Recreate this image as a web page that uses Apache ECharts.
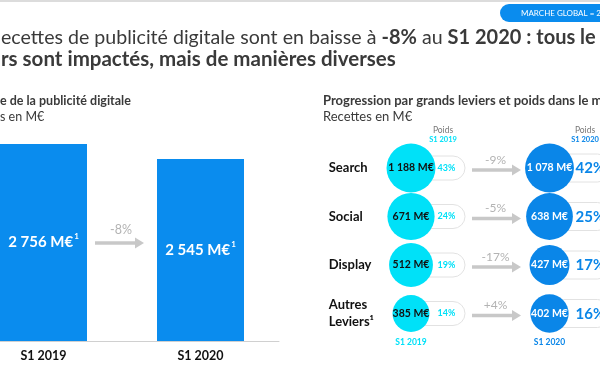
<!DOCTYPE html>
<html>
<head>
<meta charset="utf-8">
<script src="https://cdn.jsdelivr.net/npm/echarts@6/dist/echarts.min.js"></script>
<style>html,body{margin:0;padding:0;background:#fff}#c{width:600px;height:372px}</style>
</head>
<body>
<div id="c"></div>
<script>
// ---- data ----
const years = ['S1 2019', 'S1 2020'];
const totals = [2756, 2545];
const totalChange = '-8%';
const levers = ['Search', 'Social', 'Display', 'Autres\nLeviers¹'];
const revenue2019 = [1188, 671, 512, 385];
const revenue2020 = [1078, 638, 427, 402];
const share2019 = [43, 24, 19, 14];
const share2020 = [42, 25, 17, 16];
const leverChange = ['-9%', '-5%', '-17%', '+4%'];

// ---- styles ----
const FONT = 'Lato';
const CYAN = '#00E1F8';
const BLUE = '#0A86E8';
const BAR = '#0A8CEE';
const DARK = '#3a3a3a';
const ARROW = '#c8c8c8';

const fmt = v => String(v).replace(/\B(?=(\d{3})+(?!\d))/g, ' ') + ' M€';
const bubbleSize = v => 49 - 12 * Math.exp(-(v - 385) / 150);

const chart = echarts.init(document.getElementById('c'), null, {renderer: 'canvas'});

function arrowShape(x0, x1, y, color) {
  return [
    {type: 'rect', shape: {x: x0, y: y - 1.8, width: x1 - x0 - 8, height: 3.6}, style: {fill: color}},
    {type: 'polygon', shape: {points: [[x1 - 9, y - 5.5], [x1, y], [x1 - 9, y + 5.5]]}, style: {fill: color}}
  ];
}

const option = {
  animation: false,
  textStyle: {fontFamily: FONT},
  grid: [
    {left: -35, width: 314, top: 126.5, bottom: 31, outerBoundsMode: 'none', containLabel: false},
    {left: 341.75, width: 277, top: 143.75, bottom: 34.25, outerBoundsMode: 'none', containLabel: false}
  ],
  xAxis: [
    {
      gridIndex: 0, type: 'category', data: years,
      axisLine: {lineStyle: {color: '#d0d0d0', width: 1}},
      axisTick: {show: false},
      axisLabel: {color: '#111', fontWeight: 'bold', fontSize: 12.5, fontFamily: FONT, margin: 8}
    },
    {
      gridIndex: 1, type: 'category', data: years,
      axisLine: {show: false}, axisTick: {show: false},
      axisLabel: {
        margin: 0, fontSize: 8.5, fontWeight: 'bold', fontFamily: FONT,
        formatter: (v, i) => i === 0 ? '{a|' + v + '}' : '{b|' + v + '}',
        rich: {
          a: {color: CYAN, fontSize: 8.5, fontWeight: 'bold', fontFamily: FONT},
          b: {color: BLUE, fontSize: 8.5, fontWeight: 'bold', fontFamily: FONT}
        }
      }
    }
  ],
  yAxis: [
    {gridIndex: 0, type: 'value', min: 0, max: 3000, show: false},
    {
      gridIndex: 1, type: 'category', data: levers, inverse: true,
      axisLine: {show: false}, axisTick: {show: false}, splitLine: {show: false},
      axisLabel: {
        align: 'left', margin: 13, color: '#111', fontWeight: 'bold', fontSize: 13,
        fontFamily: FONT, lineHeight: 17
      }
    }
  ],
  series: [
    {
      type: 'bar', xAxisIndex: 0, yAxisIndex: 0, data: totals, barWidth: 87,
      itemStyle: {color: BAR},
      label: {
        show: true, position: 'inside',
        formatter: p => '{v|' + fmt(p.value) + '}{s|1}',
        rich: {
          v: {color: '#fff', fontWeight: 'bold', fontSize: 15, fontFamily: FONT},
          s: {color: '#fff', fontWeight: 'bold', fontSize: 8, fontFamily: FONT, padding: [0, 0, 12, 1]}
        }
      }
    },
    {
      type: 'custom', xAxisIndex: 1, yAxisIndex: 1, z: 1,
      data: levers.map((l, i) => [0, i]),
      renderItem: (params, api) => {
        const i = params.dataIndex;
        const c1 = api.coord([0, i]);
        const c2 = api.coord([1, i]);
        const y = c1[1];
        const children = [
          {type: 'rect', shape: {x: c1[0], y: y - 12, width: 54, height: 24, r: 12},
           style: {fill: '#fff', stroke: '#e2e2e2', lineWidth: 1}},
          {type: 'text', style: {x: c1[0] + 35.5, y: y, text: share2019[i] + '%', fill: CYAN,
            font: 'bold 9px ' + FONT, textAlign: 'center', textVerticalAlign: 'middle'}},
          {type: 'rect', shape: {x: c2[0], y: y - 14, width: 62, height: 28, r: 14},
           style: {fill: '#fff', stroke: '#e2e2e2', lineWidth: 1}},
          {type: 'text', style: {x: c2[0] + 26, y: y + 0.5, text: share2020[i] + '%', fill: BLUE,
            font: 'bold 15px ' + FONT, textAlign: 'left', textVerticalAlign: 'middle'}},
          {type: 'text', style: {x: c1[0] + 84.5, y: y - 8, text: leverChange[i], fill: '#b3b3b3',
            font: '12px ' + FONT, textAlign: 'center', textVerticalAlign: 'middle'}}
        ].concat(arrowShape(c1[0] + 61, c1[0] + 110, y + 2, ARROW));
        return {type: 'group', children};
      }
    },
    {
      type: 'scatter', xAxisIndex: 1, yAxisIndex: 1, z: 3,
      data: revenue2019.map((v, i) => [0, i, v]),
      symbolSize: d => bubbleSize(d[2]),
      itemStyle: {color: CYAN, opacity: 1},
      label: {show: true, position: 'inside', formatter: p => fmt(p.value[2]),
        color: '#111', fontWeight: 'bold', fontSize: 10.5, fontFamily: FONT}
    },
    {
      type: 'scatter', xAxisIndex: 1, yAxisIndex: 1, z: 3,
      data: revenue2020.map((v, i) => [1, i, v]),
      symbolSize: d => bubbleSize(d[2]),
      itemStyle: {color: BLUE, opacity: 1},
      label: {show: true, position: 'inside', formatter: p => fmt(p.value[2]),
        color: '#fff', fontWeight: 'bold', fontSize: 10.5, fontFamily: FONT}
    }
  ],
  graphic: [
    {type: 'rect', left: 0, top: 0, shape: {width: 600, height: 2}, style: {fill: '#dcdcdc'}},
    {type: 'rect', x: 500, y: 4, shape: {width: 120, height: 18, r: 9}, style: {fill: BAR}},
    {type: 'text', x: 521, y: 13.5, style: {text: 'MARCHE GLOBAL = 2', fill: '#fff', font: '8px ' + FONT, textVerticalAlign: 'middle'}},
    {type: 'text', x: 1, y: 38, style: {
      text: 'ecettes de publicité digitale sont en baisse à {b|-8%} au {b|S1 2020 : tous le}',
      fill: DARK, font: '19.6px ' + FONT, textVerticalAlign: 'middle',
      rich: {b: {fontWeight: 'bold', fontSize: 20, fontFamily: FONT, fill: DARK}}
    }},
    {type: 'text', x: 1, y: 59, style: {text: 'rs sont impactés, mais de manières diverses',
      fill: DARK, font: 'bold 20.5px ' + FONT, textVerticalAlign: 'middle'}},
    {type: 'text', x: 0, y: 101, style: {text: 'e de la publicité digitale', fill: DARK, font: 'bold 12.5px ' + FONT, textVerticalAlign: 'middle'}},
    {type: 'text', x: 0, y: 117, style: {text: 's en M€', fill: DARK, font: '12.5px ' + FONT, textVerticalAlign: 'middle'}},
    {type: 'text', x: 323, y: 101, style: {text: 'Progression par grands leviers et poids dans le m', fill: DARK, font: 'bold 13px ' + FONT, textVerticalAlign: 'middle'}},
    {type: 'text', x: 323, y: 117, style: {text: 'Recettes en M€', fill: DARK, font: '13px ' + FONT, textVerticalAlign: 'middle'}},
    {type: 'text', x: 443, y: 130, style: {text: 'Poids', fill: '#777', font: '8.5px ' + FONT, textAlign: 'center', textVerticalAlign: 'middle'}},
    {type: 'text', x: 443, y: 139.5, style: {text: 'S1 2019', fill: CYAN, font: 'bold 7.5px ' + FONT, textAlign: 'center', textVerticalAlign: 'middle'}},
    {type: 'text', x: 585, y: 130, style: {text: 'Poids', fill: '#777', font: '8.5px ' + FONT, textAlign: 'center', textVerticalAlign: 'middle'}},
    {type: 'text', x: 585, y: 139.5, style: {text: 'S1 2020', fill: BLUE, font: 'bold 7.5px ' + FONT, textAlign: 'center', textVerticalAlign: 'middle'}},
    {type: 'text', x: 121, y: 230, style: {text: totalChange, fill: '#b3b3b3', font: '12.5px ' + FONT, textAlign: 'center', textVerticalAlign: 'middle'}},
    {type: 'group', children: arrowShape(95, 144, 243, ARROW)}
  ]
};
chart.setOption(option);
</script>
</body>
</html>
